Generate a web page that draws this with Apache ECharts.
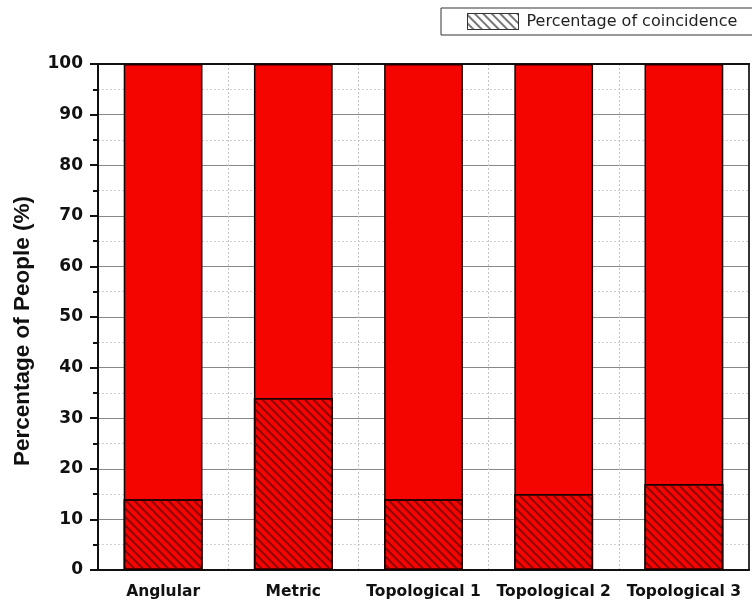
<!DOCTYPE html>
<html>
<head>
<meta charset="utf-8">
<script src="https://cdn.jsdelivr.net/npm/echarts@6/dist/echarts.min.js"></script>
<style>
  html, body { margin: 0; padding: 0; background: #fff; }
  #chart { width: 752px; height: 611px; }
</style>
</head>
<body>
<div id="chart"></div>
<script>
// Route-choice models and the share of people whose route coincides
const categories = ['Anglular', 'Metric', 'Topological 1', 'Topological 2', 'Topological 3'];
const coincidence = [14, 34, 14, 15, 17];
const totals = [100, 100, 100, 100, 100];
const yTicks = { min: 0, max: 100, step: 10 };

const FONT = 'DejaVu Sans';
const RED = '#f40500';
const hatch = {
  symbol: 'rect',
  dashArrayX: [1, 0],
  dashArrayY: [1.1, 3.6],
  rotation: Math.PI / 4,
  color: '#8c0000'
};
const legendHatch = {
  symbol: 'rect',
  dashArrayX: [1, 0],
  dashArrayY: [1.1, 3.2],
  rotation: Math.PI / 4,
  color: '#777'
};

const chart = echarts.init(document.getElementById('chart'), null, { renderer: 'canvas' });

const baseCat = { type: 'category', data: categories, boundaryGap: true };

chart.setOption({
  animation: false,
  backgroundColor: '#fff',
  grid: { left: 98, right: 3, top: 64, bottom: 41, containLabel: false },
  legend: {
    left: 441, top: 8,
    padding: [5, 60, 5, 26],
    borderColor: '#333', borderWidth: 1,
    itemWidth: 51, itemHeight: 16,
    textStyle: { fontFamily: FONT, fontSize: 16, color: '#222', padding: [0, 0, 0, 3] },
    data: [{
      name: 'Percentage of coincidence',
      icon: 'rect',
      itemStyle: { color: '#fff', borderColor: '#333', borderWidth: 1, decal: legendHatch }
    }]
  },
  xAxis: [
    Object.assign({}, baseCat, {
      position: 'bottom',
      axisLine: { lineStyle: { color: '#111', width: 2 } },
      axisTick: { alignWithLabel: true, length: 8, lineStyle: { color: '#111', width: 2 } },
      axisLabel: { interval: 0, fontFamily: FONT, fontWeight: 'bold', fontSize: 15.5, color: '#111', margin: 14 },
      splitLine: { show: false }
    }),
    Object.assign({}, baseCat, {
      position: 'bottom',
      axisLine: { show: false },
      axisTick: { interval: 0, length: 5, lineStyle: { color: '#111', width: 2 } },
      axisLabel: { show: false },
      splitLine: { show: true, interval: 0, lineStyle: { color: '#c4c4c4', type: [2, 2], width: 1 } }
    }),
    Object.assign({}, baseCat, {
      position: 'top',
      axisLine: { lineStyle: { color: '#111', width: 2 } },
      axisTick: { inside: true, interval: 0, alignWithLabel: true, length: 7, lineStyle: { color: '#111', width: 2 } },
      axisLabel: { show: false },
      splitLine: { show: false }
    }),
    Object.assign({}, baseCat, {
      position: 'top',
      axisLine: { show: false },
      axisTick: { inside: true, interval: 0, length: 5, lineStyle: { color: '#111', width: 2 } },
      axisLabel: { show: false },
      splitLine: { show: false }
    })
  ],
  yAxis: [
    {
      type: 'value',
      min: yTicks.min, max: yTicks.max, interval: yTicks.step,
      position: 'left',
      name: 'Percentage of People (%)',
      nameLocation: 'middle',
      nameGap: 64,
      nameTextStyle: {
        fontFamily: 'Liberation Sans', fontWeight: 'bold', fontSize: 22.5, color: '#111',
        padding: [0, 28, 0, 0]
      },
      axisLine: { show: true, lineStyle: { color: '#111', width: 2 } },
      axisTick: { show: true, length: 8, lineStyle: { color: '#111', width: 2 } },
      minorTick: { show: true, splitNumber: 2, length: 5, lineStyle: { color: '#111', width: 2 } },
      axisLabel: { fontFamily: FONT, fontWeight: 'bold', fontSize: 17, color: '#111', margin: 15 },
      splitLine: { show: true, lineStyle: { color: '#888', width: 1 } },
      minorSplitLine: { show: true, lineStyle: { color: '#d0d0d0', type: [2, 2], width: 1 } }
    },
    {
      type: 'value',
      min: yTicks.min, max: yTicks.max, interval: yTicks.step,
      position: 'right',
      axisLine: { show: true, lineStyle: { color: '#333', width: 2 } },
      axisTick: { show: false },
      axisLabel: { show: false },
      splitLine: { show: false }
    }
  ],
  series: [
    {
      name: 'Total',
      type: 'bar',
      xAxisIndex: 0, yAxisIndex: 0,
      data: totals,
      barWidth: '60.5%',
      barGap: '-100%',
      itemStyle: { color: RED, borderColor: '#1a0000', borderWidth: 1.5 },
      z: 2
    },
    {
      name: 'Percentage of coincidence',
      type: 'bar',
      xAxisIndex: 0, yAxisIndex: 0,
      data: coincidence,
      barWidth: '60.5%',
      barGap: '-100%',
      itemStyle: { color: RED, borderColor: '#1a0000', borderWidth: 1.5, decal: hatch },
      z: 3
    }
  ]
});
</script>
</body>
</html>
